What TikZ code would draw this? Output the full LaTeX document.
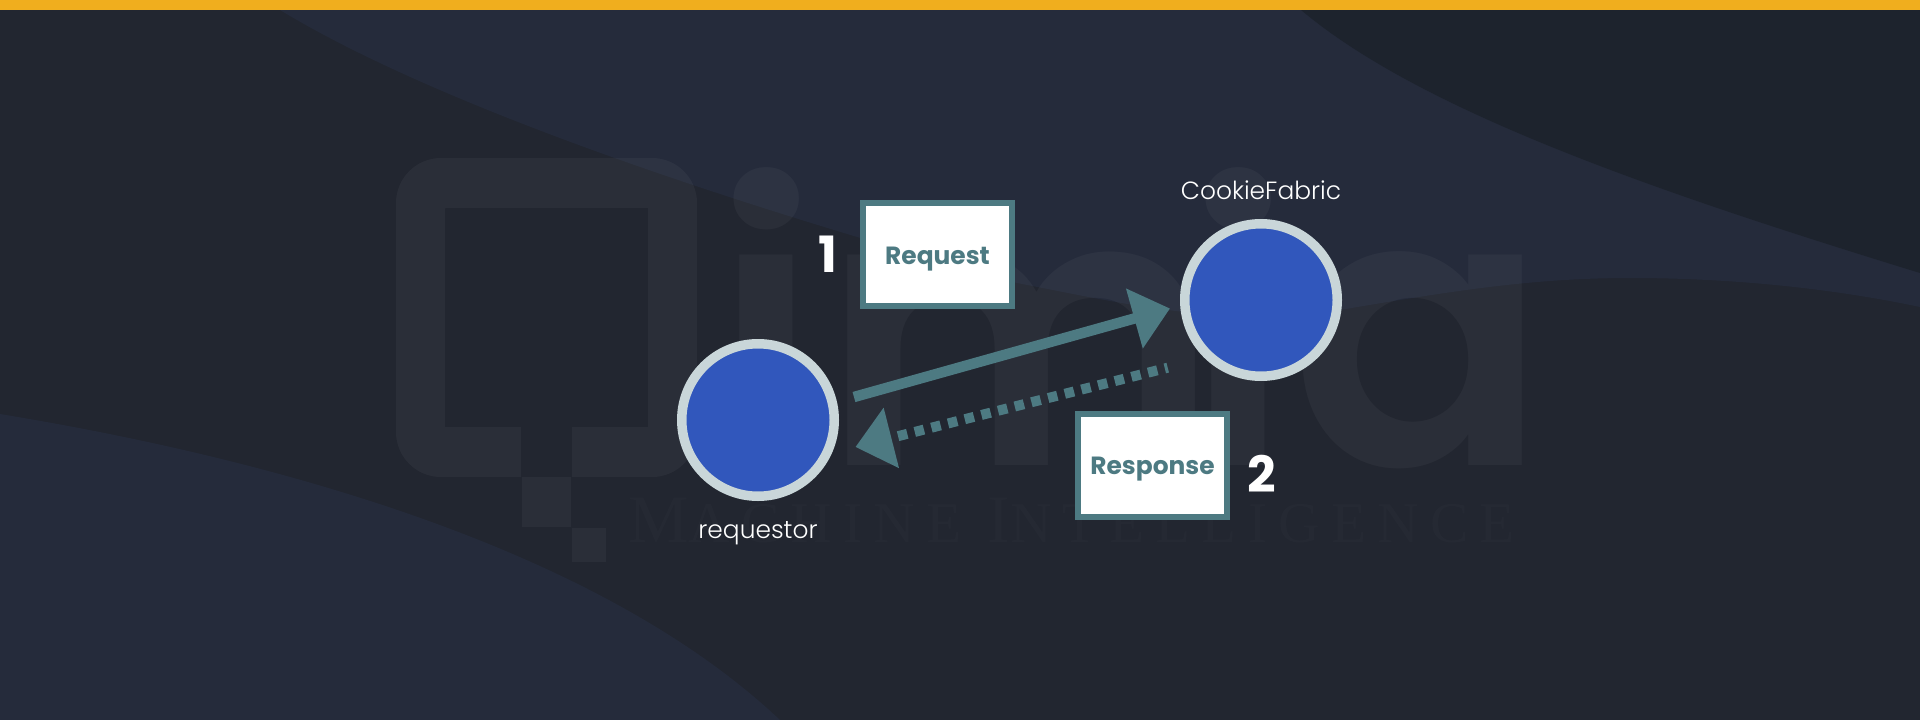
\documentclass[tikz,border=0pt]{standalone}
\usepackage{fontspec}
\usetikzlibrary{arrows.meta}
\usetikzlibrary{calc}
\setmainfont{Poppins}
\newfontfamily\markfont{Poppins SemiBold}
\newfontfamily\thinfont{Poppins Light}
\newfontfamily\strapfont[LetterSpace=19.5]{Liberation Serif}
\definecolor{basebg}{RGB}{34,38,48}
\definecolor{bluebg}{RGB}{37,43,59}
\definecolor{darkbg}{RGB}{29,35,45}
\definecolor{barcol}{RGB}{240,174,30}
\definecolor{tealcol}{RGB}{77,122,130}
\definecolor{ringcol}{RGB}{201,214,217}
\definecolor{dotcol}{RGB}{49,87,188}
\newcommand{\strapcap}[1]{{\fontsize{68}{68}\selectfont #1}}
\newcommand{\strapsmall}[1]{{\fontsize{57.5}{57.5}\selectfont #1}}
\tikzset{
	peer/.style = {circle, draw = ringcol, fill = dotcol, line width = 9.5pt, minimum size = 152.5pt, inner sep = 0pt},
	msgbox/.style = {rectangle, draw = tealcol, fill = white, line width = 6pt, minimum width = 149pt, minimum height = 103pt, inner sep = 0pt, text height = 19pt, text depth = 0pt, text = tealcol, font = \fontsize{24.9}{24.9}\selectfont\bfseries},
	peerlabel/.style = {anchor = base, inner sep = 0pt, text = white, font = \fontsize{24.9}{24.9}\selectfont\thinfont},
	stepnum/.style = {anchor = base, inner sep = 0pt, text = white, font = \fontsize{50}{50}\selectfont\bfseries},
	flow/.style = {draw = tealcol, line width = 10.5pt, -{Triangle[length = 37pt, width = 60pt]}},
	wmark/.style = {fill = white, fill opacity = 0.04},
}
\begin{document}
\begin{tikzpicture}[x = 1pt, y = -1pt]
	\useasboundingbox (0,0) rectangle (1920,720);
	% background
	\fill[basebg] (0,0) rectangle (1920,720);
	\fill[bluebg] (280,10) .. controls (420,95) and (680,190) .. (1017,283) .. controls (1120,303) and (1200,322) .. (1310,315) .. controls (1430,295) and (1520,278) .. (1630,278) .. controls (1730,278) and (1830,288) .. (1920,307) -- (1920,10) -- cycle;
	\fill[darkbg] (1301,10) .. controls (1420,110) and (1650,190) .. (1920,273) -- (1920,10) -- cycle;
	\fill[bluebg] (0,414) .. controls (280,460) and (600,550) .. (780,720) -- (0,720) -- cycle;
	\fill[barcol] (0,0) rectangle (1920,9.5);
	% logo
	\fill[wmark] (441,158) -- (652,158) arc (-90:0:45) -- (697,432) arc (0:90:45) -- (572,477) -- (572,427) -- (648,427) -- (648,208) -- (445,208) -- (445,427) -- (521,427) -- (521,477) -- (441,477) arc (90:180:45) -- (396,203) arc (180:270:45) -- cycle;
	\fill[wmark] (522,477) rectangle (571,527);
	\fill[wmark] (572,528) rectangle (606,562);
	\node[anchor = base west, inner sep = 0pt, text = white, text opacity = 0.04, font = \fontsize{380}{380}\selectfont\markfont] (word) at (713,465) {i\kern3pt m\kern-35pt ia};
	\node[anchor = base west, inner sep = 0pt, text = white, text opacity = 0.015, font = \strapfont] (strap) at (628,542) {\strapcap{M}\strapsmall{ACHINE\ }\strapcap{I}\strapsmall{NTELLIGENCE}};
	% peers
	\node[peer] (requestor) at (758,420) {};
	\node[peer] (fabric) at (1261,300) {};
	\node[peerlabel] (requestorlabel) at (758,538) {requestor};
	\node[peerlabel] (fabriclabel) at (1261,199) {CookieFabric};
	% messages
	\node[msgbox] (requestbox) at (937.5,254.5) {Request};
	\node[msgbox] (responsebox) at (1152.5,465) {Response};
	\node[stepnum] (one) at (828,272) {1};
	\node[stepnum] (two) at (1262,492) {2};
	\draw[flow, shorten < = 17.7pt, shorten > = 10.6pt] (requestor.13) -- (fabric.184.35);
	\draw[flow, line width = 10pt, dash pattern = on 9.5pt off 7.7pt, dash phase = 6.5pt, shorten < = 38.2pt, shorten > = 24.2pt] (fabric.226.3) -- (requestor.-24.8);
\end{tikzpicture}
\end{document}
